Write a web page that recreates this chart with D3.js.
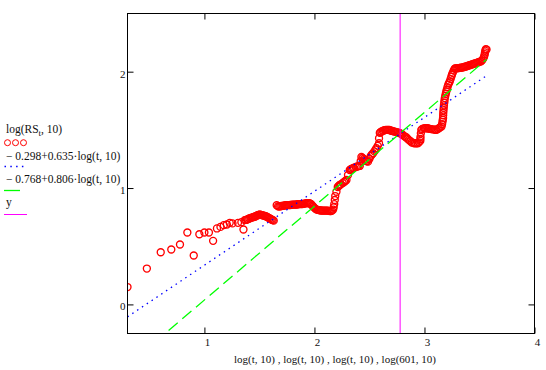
<!DOCTYPE html>
<html>
<head>
<meta charset="utf-8">
<script src="https://cdn.jsdelivr.net/npm/d3@7"></script>
<style>
  body { margin: 0; background: #fff; }
  text { font-family: "Liberation Serif", "DejaVu Serif", serif; }
</style>
</head>
<body>
<div id="chart"></div>
<script>
// points: x = log(t,10), y = log(RS_t,10)
const logT = [
  0.301, 0.477, 0.603, 0.699, 0.778, 0.845, 0.903, 0.954, 1.000, 1.041,
  1.079, 1.114, 1.146, 1.176, 1.204, 1.230, 1.255, 1.305, 1.336, 1.355,
  // first cluster
  1.366, 1.377, 1.387, 1.398, 1.408, 1.418, 1.428, 1.438, 1.447, 1.457,
  1.466, 1.475, 1.484, 1.493, 1.503, 1.512, 1.521, 1.530, 1.539, 1.548,
  1.557, 1.566, 1.575, 1.584, 1.594, 1.603, 1.612, 1.621, 1.630,
  // second cluster
  1.657, 1.67, 1.68, 1.69, 1.70, 1.71, 1.72, 1.73, 1.74, 1.75,
  1.76, 1.77, 1.78, 1.79, 1.80, 1.81, 1.82, 1.83, 1.84, 1.85,
  1.86, 1.87, 1.88, 1.89, 1.90, 1.91, 1.92, 1.93, 1.94, 1.95,
  1.96, 1.97,
  // dip
  1.98, 1.99, 2.00, 2.01, 2.02, 2.03, 2.04, 2.05, 2.06, 2.07,
  2.08, 2.09, 2.10, 2.11, 2.12, 2.13, 2.14, 2.15, 2.16, 2.17,
  // rise
  2.175, 2.180, 2.185, 2.189, 2.200, 2.212, 2.22, 2.230, 2.24, 2.257,
  2.27, 2.28, 2.291, 2.305, 2.321, 2.33, 2.34, 2.351, 2.36, 2.375,
  2.39, 2.40, 2.412, 2.42, 2.427, 2.437, 2.448, 2.457, 2.466, 2.477,
  2.487, 2.50, 2.512, 2.522, 2.533, 2.545, 2.555, 2.564, 2.575, 2.587,
  2.587, 2.594,
  // top of the hump and fall
  2.60, 2.61, 2.621, 2.63, 2.64, 2.648, 2.66, 2.67, 2.68, 2.69,
  2.70, 2.71, 2.72, 2.73, 2.745, 2.757, 2.77, 2.78, 2.791, 2.80,
  2.812, 2.825, 2.836, 2.845, 2.857, 2.87, 2.885, 2.90, 2.912, 2.925,
  2.939, 2.95, 2.962, 2.963, 2.964, 2.967, 2.971,
  // shelf
  2.98, 2.994, 3.005, 3.015, 3.025, 3.035, 3.048, 3.06, 3.075, 3.09,
  3.10, 3.109, 3.12, 3.130, 3.14, 3.155,
  // steep rise
  3.160, 3.164, 3.166, 3.169, 3.170, 3.171, 3.173, 3.175, 3.177, 3.180,
  3.182, 3.185, 3.189, 3.194, 3.198, 3.203, 3.209, 3.216, 3.223, 3.230,
  3.237, 3.244, 3.250, 3.257, 3.266, 3.275,
  // last stretch
  3.28, 3.29, 3.30, 3.31, 3.32, 3.33, 3.34, 3.35, 3.36, 3.37,
  3.38, 3.39, 3.40, 3.41, 3.42, 3.43, 3.44, 3.45, 3.46, 3.47,
  3.48, 3.49, 3.50, 3.51, 3.52, 3.53, 3.539, 3.544, 3.548, 3.550,
  3.553, 3.558, 3.564
];
const logRS = [
  0.149, 0.308, 0.448, 0.472, 0.515, 0.618, 0.420, 0.603, 0.618, 0.618,
  0.546, 0.653, 0.666, 0.681, 0.687, 0.701, 0.696, 0.701, 0.707, 0.644,
  0.724, 0.726, 0.729, 0.734, 0.738, 0.742, 0.746, 0.748, 0.751, 0.753,
  0.758, 0.763, 0.766, 0.770, 0.773, 0.770, 0.767, 0.765, 0.763, 0.761,
  0.758, 0.754, 0.749, 0.744, 0.739, 0.734, 0.728, 0.724, 0.720,
  0.852, 0.843, 0.841, 0.844, 0.846, 0.847, 0.849, 0.850, 0.852, 0.853,
  0.853, 0.853, 0.854, 0.856, 0.858, 0.858, 0.858, 0.858, 0.859, 0.861,
  0.862, 0.862, 0.862, 0.863, 0.864, 0.866, 0.868, 0.870, 0.871, 0.869,
  0.867, 0.862,
  0.850, 0.840, 0.830, 0.821, 0.815, 0.812, 0.810, 0.808, 0.807, 0.806,
  0.806, 0.806, 0.806, 0.806, 0.806, 0.804, 0.802, 0.802, 0.806, 0.815,
  0.835, 0.862, 0.897, 0.931, 0.968, 1.009, 1.018, 1.026, 1.032, 1.043,
  1.052, 1.060, 1.069, 1.112, 1.155, 1.162, 1.166, 1.170, 1.175, 1.181,
  1.185, 1.188, 1.190, 1.230, 1.267, 1.258, 1.250, 1.241, 1.233, 1.230,
  1.227, 1.252, 1.276, 1.288, 1.299, 1.315, 1.330, 1.342, 1.362, 1.385,
  1.428, 1.474,
  1.480, 1.486, 1.491, 1.495, 1.498, 1.500, 1.500, 1.500, 1.499, 1.496,
  1.492, 1.489, 1.487, 1.485, 1.481, 1.478, 1.473, 1.470, 1.466, 1.458,
  1.448, 1.441, 1.435, 1.425, 1.414, 1.404, 1.392, 1.387, 1.385, 1.385,
  1.385, 1.393, 1.405, 1.422, 1.440, 1.470, 1.500,
  1.507, 1.513, 1.514, 1.515, 1.514, 1.512, 1.509, 1.506, 1.504, 1.502,
  1.501, 1.500, 1.506, 1.513, 1.520, 1.528,
  1.548, 1.569, 1.586, 1.603, 1.625, 1.647, 1.668, 1.690, 1.711, 1.733,
  1.753, 1.773, 1.792, 1.810, 1.828, 1.845, 1.866, 1.888, 1.902, 1.916,
  1.936, 1.957, 1.974, 1.991, 2.010, 2.026,
  2.027, 2.029, 2.030, 2.031, 2.033, 2.034, 2.035, 2.037, 2.040, 2.043,
  2.046, 2.049, 2.052, 2.055, 2.059, 2.062, 2.065, 2.068, 2.071, 2.074,
  2.078, 2.081, 2.084, 2.088, 2.094, 2.106, 2.121, 2.136, 2.151, 2.166,
  2.181, 2.194, 2.190
];

// fitted lines a + b*log(t,10)
const fitA = [-0.298, -0.768];
const fitB = [0.635, 0.806];
const fitColors = ["#0000ff", "#00ff00"];
const fitDash = ["1.5,4.3", "12,6"];
const markerX = Math.log10(601);

const xTicks = [1, 2, 3, 4];
const yTicks = [0, 1, 2];

const legendLabels = ["log(RS", "− 0.298+0.635·log(t, 10)", "− 0.768+0.806·log(t, 10)", "y"];
const xTitle = "log(t, 10) , log(t, 10) , log(t, 10) , log(601, 10)";

const W = 546, H = 370;
const plot = {left: 127.5, right: 534.5, top: 13.5, bottom: 333.5};

const svg = d3.select("#chart").append("svg")
  .attr("width", W).attr("height", H);

let x = d3.scaleLinear()
  .domain([Math.log10(2), 4])
  .range([plot.left, plot.right]);
let y = d3.scaleLinear()
  .domain([-0.25, 2.5])
  .range([plot.bottom, plot.top]);

svg.append("clipPath").attr("id", "clip")
  .append("rect")
  .attr("x", plot.left).attr("y", plot.top)
  .attr("width", plot.right - plot.left).attr("height", plot.bottom - plot.top);

const inner = svg.append("g").attr("clip-path", "url(#clip)");

// data circles
inner.append("g")
  .selectAll("circle")
  .data(logT)
  .enter()
  .append("circle")
  .attr("cx", d => x(d))
  .attr("cy", (d, i) => y(logRS[i]))
  .attr("r", 3.5)
  .attr("fill", "none")
  .attr("stroke", "#ff0000")
  .attr("stroke-width", 1.35);

// fit lines
const tEnds = [d3.min(logT), d3.max(logT)];
const lineGenerator = d3.line();
fitA.forEach((a, k) => {
  inner.append("path")
    .attr("d", lineGenerator(tEnds.map(t => [x(t), y(a + fitB[k] * t)])))
    .attr("fill", "none")
    .attr("stroke", fitColors[k])
    .attr("stroke-width", 1.3)
    .attr("stroke-dasharray", fitDash[k]);
});

// vertical marker
inner.append("path")
  .attr("d", lineGenerator([[x(markerX), y(-0.25)], [x(markerX), y(2.5)]]))
  .attr("stroke", "#ff00ff")
  .attr("stroke-width", 1);

// axes, ticks pointing inward
const xAxisB = svg.append("g")
  .attr("transform", "translate(0," + plot.bottom + ")")
  .call(d3.axisBottom(x).tickValues(xTicks).tickSize(-6).tickPadding(4.5).tickFormat(d3.format("d")));
const xAxisT = svg.append("g")
  .attr("transform", "translate(0," + plot.top + ")")
  .call(d3.axisTop(x).tickValues(xTicks).tickSize(-6).tickFormat(""));
const yAxisL = svg.append("g")
  .attr("transform", "translate(" + plot.left + ",0)")
  .call(d3.axisLeft(y).tickValues(yTicks).tickSize(-6).tickPadding(2).tickFormat(d3.format("d")));
const yAxisR = svg.append("g")
  .attr("transform", "translate(" + plot.right + ",0)")
  .call(d3.axisRight(y).tickValues(yTicks).tickSize(-6).tickFormat(""));

[xAxisB, xAxisT, yAxisL, yAxisR].forEach(g => {
  g.select(".domain").remove();
  g.selectAll("line").attr("stroke", "#000");
  g.selectAll("text")
    .attr("fill", "#111")
    .style("font-family", "'Liberation Serif', serif")
    .style("font-size", "11px");
});
xAxisB.selectAll("text").attr("dx", 2.5);
yAxisL.selectAll("text").attr("dy", "0.5em");

// frame
svg.append("rect")
  .attr("x", plot.left).attr("y", plot.top)
  .attr("width", plot.right - plot.left).attr("height", plot.bottom - plot.top)
  .attr("fill", "none").attr("stroke", "#000").attr("stroke-width", 1);

// x title
svg.append("text")
  .attr("x", 335).attr("y", 363)
  .attr("text-anchor", "middle")
  .style("font-size", "11px")
  .attr("fill", "#111")
  .text(xTitle);

// legend
const leg = svg.append("g").style("font-size", "11.5px").attr("fill", "#111");
const t0 = leg.append("text").attr("x", 6).attr("y", 133);
t0.append("tspan").text(legendLabels[0]);
t0.append("tspan").attr("dy", 3).style("font-size", "9px").text("t");
t0.append("tspan").attr("dy", -3).text(", 10)");

leg.selectAll("circle.leg")
  .data([7.5, 15.5, 23.5])
  .enter()
  .append("circle")
  .attr("cx", d => d).attr("cy", 142.7).attr("r", 3)
  .attr("fill", "none").attr("stroke", "#ff0000");

leg.append("text").attr("x", 6).attr("y", 159.5).text(legendLabels[1]);
leg.append("path")
  .attr("d", lineGenerator([[4.5, 166.5], [24, 166.5]]))
  .attr("stroke", fitColors[0]).attr("stroke-width", 1.3).attr("stroke-dasharray", "1.5,4.3");

leg.append("text").attr("x", 6).attr("y", 183).text(legendLabels[2]);
leg.append("path")
  .attr("d", lineGenerator([[4, 190.5], [20, 190.5]]))
  .attr("stroke", fitColors[1]).attr("stroke-width", 1.3);

leg.append("text").attr("x", 6).attr("y", 205.5).text(legendLabels[3]);
leg.append("path")
  .attr("d", lineGenerator([[4, 214.5], [27, 214.5]]))
  .attr("stroke", "#ff00ff").attr("stroke-width", 1);
</script>
</body>
</html>
